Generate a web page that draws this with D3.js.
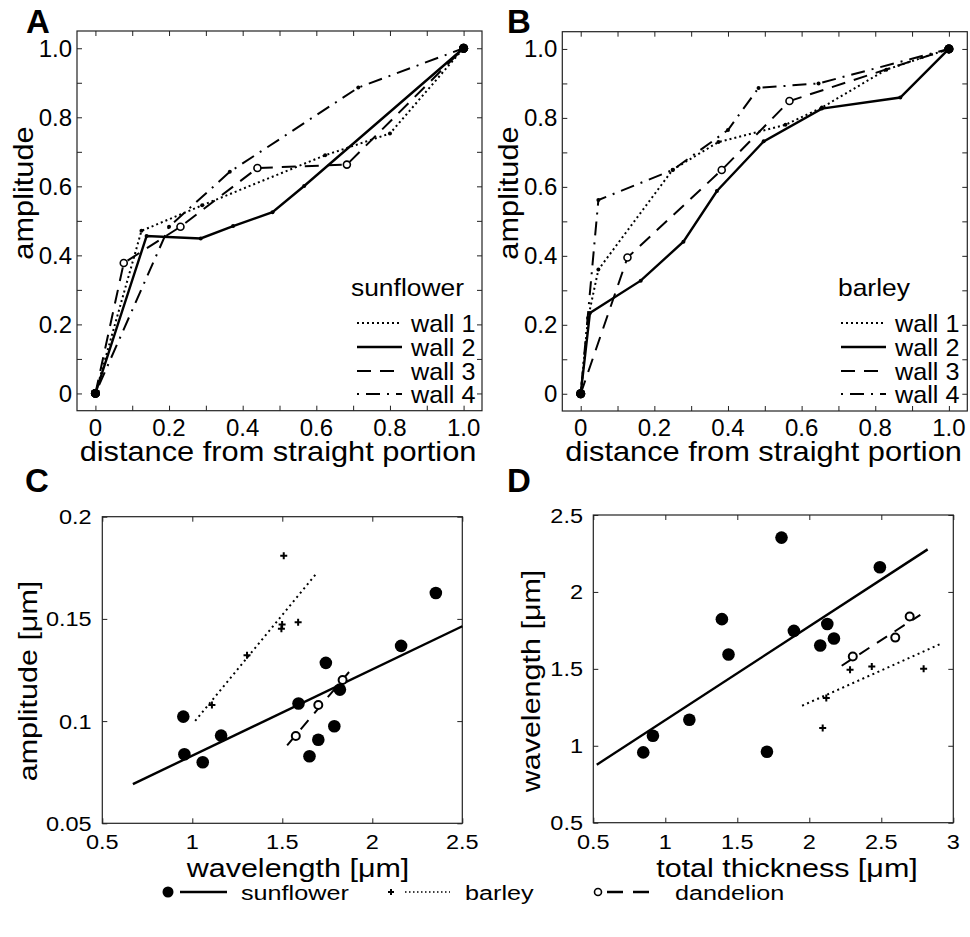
<!DOCTYPE html>
<html>
<head>
<meta charset="utf-8">
<script src="https://cdn.jsdelivr.net/npm/d3@7"></script>
<style>
  body { margin: 0; background: #fff; }
  text { font-family: "Liberation Sans", Arial, sans-serif; fill: #000; }
</style>
</head>
<body>
<script>
var W = 970, H = 937;

// panel A - sunflower, normalised amplitude along the wall
var aWall1X = [0, 0.125, 0.29, 0.624, 0.80, 1.0];
var aWall1Y = [0, 0.471, 0.545, 0.69, 0.753, 1.0];
var aWall2X = [0, 0.139, 0.286, 0.374, 0.481, 0.567, 1.0];
var aWall2Y = [0, 0.456, 0.449, 0.485, 0.525, 0.601, 1.0];
var aWall3X = [0, 0.077, 0.231, 0.44, 0.683, 1.0];
var aWall3Y = [0, 0.378, 0.483, 0.653, 0.663, 1.0];
var aWall4X = [0, 0.2, 0.365, 0.714, 1.0];
var aWall4Y = [0, 0.483, 0.642, 0.886, 1.0];

// panel B - barley
var bWall1X = [0, 0.02, 0.048, 0.25, 0.374, 0.556, 0.655, 0.83, 1.0];
var bWall1Y = [0, 0.22, 0.36, 0.65, 0.73, 0.78, 0.83, 0.94, 1.0];
var bWall2X = [0, 0.025, 0.163, 0.279, 0.37, 0.497, 0.655, 0.868, 1.0];
var bWall2Y = [0, 0.234, 0.328, 0.441, 0.588, 0.732, 0.827, 0.859, 1.0];
var bWall3X = [0, 0.127, 0.383, 0.567, 1.0];
var bWall3Y = [0, 0.395, 0.649, 0.849, 1.0];
var bWall4X = [0, 0.048, 0.25, 0.40, 0.483, 0.646, 1.0];
var bWall4Y = [0, 0.562, 0.649, 0.765, 0.887, 0.90, 1.0];

var wallNames = ["wall 1", "wall 2", "wall 3", "wall 4"];

// panel C - amplitude vs wavelength
var cSunX = [0.95, 0.956, 1.058, 1.16, 1.59, 1.742, 1.82, 1.789, 1.70, 1.651, 2.16, 2.353];
var cSunY = [0.1022, 0.0838, 0.0799, 0.0929, 0.1086, 0.1285, 0.1154, 0.0975, 0.0909, 0.0828, 0.1368, 0.1627];
var cBarX = [1.508, 1.588, 1.499, 1.495, 1.304, 1.109];
var cBarY = [0.1809, 0.1484, 0.1473, 0.1452, 0.1322, 0.1079];
var cDanX = [1.575, 1.70, 1.835];
var cDanY = [0.0927, 0.1079, 0.1201];
// linear fits: [slope, intercept, xStart, xEnd]
var cSunFit = [0.0422, 0.0409, 0.67, 2.5];
var cBarFit = [0.107, -0.0086, 1.016, 1.685];
var cDanFit = [0.1044, -0.0713, 1.527, 1.889];

// panel D - wavelength vs total thickness
var dSunX = [0.847, 0.914, 1.167, 1.393, 1.439, 1.706, 1.807, 1.893, 2.076, 2.125, 2.171, 2.49];
var dSunY = [0.957, 1.065, 1.169, 1.823, 1.593, 0.961, 2.353, 1.747, 1.652, 1.792, 1.697, 2.16];
var dBarX = [2.283, 2.434, 2.794, 2.118, 2.093];
var dBarY = [1.494, 1.515, 1.5, 1.31, 1.115];
var dDanX = [2.302, 2.597, 2.697];
var dDanY = [1.58, 1.703, 1.84];
var dSunFit = [0.609, 0.558, 0.524, 2.822];
var dBarFit = [0.418, 0.445, 1.95, 2.923];
var dDanFit = [0.606, 0.172, 2.225, 2.771];

var abTicks = d3.range(0, 1.01, 0.1);
var abLabels = [0, 0.2, 0.4, 0.6, 0.8, 1.0];
var cXTicks = [0.5, 1, 1.5, 2, 2.5];
var cYTicks = [0.05, 0.1, 0.15, 0.2];
var dXTicks = [0.5, 1, 1.5, 2, 2.5, 3];
var dYTicks = [0.5, 1, 1.5, 2, 2.5];

var svg = d3.select("body").append("svg")
  .attr("width", W)
  .attr("height", H);
svg.append("rect").attr("width", W).attr("height", H).attr("fill", "#fff");

// text with horizontal stretch (the original font is wider than Arial)
function txt(x, y, s, size, sx, anchor, rot, weight) {
  return svg.append("text")
    .attr("transform", "translate(" + x + "," + y + ")" + (rot ? " rotate(" + rot + ")" : "") + " scale(" + sx + ",1)")
    .attr("text-anchor", anchor || "start")
    .attr("font-size", size + "px")
    .attr("font-weight", weight || "normal")
    .text(s);
}

function makePanel(box, xd, yd, xt, yt) {
  var x = d3.scaleLinear().domain(xd).range([box.x0, box.x1]);
  var y = d3.scaleLinear().domain(yd).range([box.y1, box.y0]);
  var g = svg.append("g");
  var axes = [
    [d3.axisBottom(x).tickValues(xt), "translate(0," + box.y1 + ")"],
    [d3.axisTop(x).tickValues(xt), "translate(0," + box.y0 + ")"],
    [d3.axisLeft(y).tickValues(yt), "translate(" + box.x0 + ",0)"],
    [d3.axisRight(y).tickValues(yt), "translate(" + box.x1 + ",0)"]
  ];
  axes.forEach(function(a) {
    var ag = g.append("g").attr("transform", a[1])
      .call(a[0].tickSize(-5).tickFormat(""));
    ag.select(".domain").remove();
    ag.selectAll("line").attr("stroke", "#222").attr("stroke-width", 1);
  });
  g.append("rect")
    .attr("x", box.x0).attr("y", box.y0)
    .attr("width", box.x1 - box.x0).attr("height", box.y1 - box.y0)
    .attr("fill", "none").attr("stroke", "#222").attr("stroke-width", 1.2);
  return { x: x, y: y, g: g, box: box };
}

var wallStyle = [
  { dash: "2,3", w: 2 },
  { dash: null, w: 2.4 },
  { dash: "14,9", w: 2 },
  { dash: "2,7,14,7", w: 2 }
];

function drawWalls(p, xs, ys) {
  var line = d3.line().x(function(d) { return p.x(d[0]); }).y(function(d) { return p.y(d[1]); });
  xs.forEach(function(xa, k) {
    var pts = xa.map(function(v, i) { return [v, ys[k][i]]; });
    p.g.append("path")
      .attr("d", line(pts))
      .attr("fill", "none")
      .attr("stroke", "#000")
      .attr("stroke-width", wallStyle[k].w)
      .attr("stroke-dasharray", wallStyle[k].dash);
    var inner = pts.slice(1, pts.length - 1);
    if (k === 2) {
      p.g.selectAll(null).data(inner).enter().append("circle")
        .attr("cx", function(d) { return p.x(d[0]); })
        .attr("cy", function(d) { return p.y(d[1]); })
        .attr("r", 3.5).attr("fill", "#fff").attr("stroke", "#000").attr("stroke-width", 1.6);
    } else {
      p.g.selectAll(null).data(inner).enter().append("circle")
        .attr("cx", function(d) { return p.x(d[0]); })
        .attr("cy", function(d) { return p.y(d[1]); })
        .attr("r", 2).attr("fill", "#000");
    }
    p.g.selectAll(null).data([pts[0], pts[pts.length - 1]]).enter().append("circle")
      .attr("cx", function(d) { return p.x(d[0]); })
      .attr("cy", function(d) { return p.y(d[1]); })
      .attr("r", 4.5).attr("fill", "#000");
  });
}

function abLabelsDraw(p) {
  abLabels.forEach(function(v) {
    var s = v === 0 ? "0" : v.toFixed(1);
    txt(p.x(v), 436, s, 24, 1.0, "middle");
    txt(p.box.x0 - 5, p.y(v) + 8.5, s, 24, 1.0, "end");
  });
}

function wallLegend(title, tx, lx0, lx1) {
  txt(tx, 296, title, 24, 1.1, "start");
  var rows = [323, 347, 371, 394];
  rows.forEach(function(ry, k) {
    svg.append("line")
      .attr("x1", lx0).attr("x2", lx1).attr("y1", ry).attr("y2", ry)
      .attr("stroke", "#000").attr("stroke-width", wallStyle[k].w)
      .attr("stroke-dasharray", wallStyle[k].dash);
    txt(lx1 + 9, ry + 8.6, wallNames[k], 24, 1.05, "start");
  });
}

// ---- panel A
var pA = makePanel({ x0: 77, x1: 482, y0: 31, y1: 410.7 }, [-0.05, 1.05], [-0.05, 1.05], abTicks, abTicks);
drawWalls(pA, [aWall1X, aWall2X, aWall3X, aWall4X], [aWall1Y, aWall2Y, aWall3Y, aWall4Y]);
abLabelsDraw(pA);
wallLegend("sunflower", 351, 357, 402);
txt(278, 461, "distance from straight portion", 27, 1.14, "middle");
txt(33, 193, "amplitude", 27, 1.14, "middle", -90);
txt(26, 33, "A", 33, 1.0, "start", 0, "bold");

// ---- panel B
var pB = makePanel({ x0: 562.3, x1: 967.3, y0: 31.7, y1: 411 }, [-0.05, 1.05], [-0.05, 1.05], abTicks, abTicks);
drawWalls(pB, [bWall1X, bWall2X, bWall3X, bWall4X], [bWall1Y, bWall2Y, bWall3Y, bWall4Y]);
abLabelsDraw(pB);
wallLegend("barley", 838, 841, 886);
txt(763.5, 461, "distance from straight portion", 27, 1.14, "middle");
txt(518, 193, "amplitude", 27, 1.14, "middle", -90);
txt(507, 33, "B", 33, 1.0, "start", 0, "bold");

// ---- scatter panels
function plus(g, cx, cy, s) {
  g.append("path")
    .attr("d", "M" + (cx - s) + "," + cy + "H" + (cx + s) + "M" + cx + "," + (cy - s) + "V" + (cy + s))
    .attr("stroke", "#000").attr("stroke-width", 2);
}

function fitLine(p, f, dash, w) {
  p.g.append("line")
    .attr("x1", p.x(f[2])).attr("y1", p.y(f[0] * f[2] + f[1]))
    .attr("x2", p.x(f[3])).attr("y2", p.y(f[0] * f[3] + f[1]))
    .attr("stroke", "#000").attr("stroke-width", w)
    .attr("stroke-dasharray", dash);
}

function scatter(p, sx, sy, bx, by, dx, dy, fits) {
  fitLine(p, fits[0], null, 2.4);
  fitLine(p, fits[1], "2,3.5", 2);
  fitLine(p, fits[2], "12,9", 2);
  sx.forEach(function(v, i) {
    p.g.append("circle").attr("cx", p.x(v)).attr("cy", p.y(sy[i])).attr("r", 6.3).attr("fill", "#000");
  });
  bx.forEach(function(v, i) { plus(p.g, p.x(v), p.y(by[i]), 3.5); });
  dx.forEach(function(v, i) {
    p.g.append("circle").attr("cx", p.x(v)).attr("cy", p.y(dy[i])).attr("r", 4)
      .attr("fill", "#fff").attr("stroke", "#000").attr("stroke-width", 2);
  });
}

var pC = makePanel({ x0: 102.3, x1: 462.3, y0: 516.7, y1: 823.3 }, [0.5, 2.5], [0.05, 0.2], cXTicks, cYTicks);
scatter(pC, cSunX, cSunY, cBarX, cBarY, cDanX, cDanY, [cSunFit, cBarFit, cDanFit]);
cXTicks.forEach(function(v) { txt(pC.x(v), 849, String(v), 21, 1.12, "middle"); });
cYTicks.forEach(function(v) { txt(91.7, pC.y(v) + 7.5, String(v), 21, 1.12, "end"); });
txt(298, 877, "wavelength [\u03bcm]", 25, 1.22, "middle");
txt(37, 681, "amplitude [\u03bcm]", 25, 1.22, "middle", -90);
txt(25, 492, "C", 33, 1.0, "start", 0, "bold");

var pD = makePanel({ x0: 593.3, x1: 953.3, y0: 515, y1: 822.7 }, [0.5, 3], [0.5, 2.5], dXTicks, dYTicks);
scatter(pD, dSunX, dSunY, dBarX, dBarY, dDanX, dDanY, [dSunFit, dBarFit, dDanFit]);
dXTicks.forEach(function(v) { txt(pD.x(v), 849, String(v), 21, 1.12, "middle"); });
dYTicks.forEach(function(v) { txt(583, pD.y(v) + 7.5, String(v), 21, 1.12, "end"); });
txt(787, 877, "total thickness [\u03bcm]", 25, 1.22, "middle");
txt(540, 681, "wavelength [\u03bcm]", 25, 1.22, "middle", -90);
txt(507, 492, "D", 33, 1.0, "start", 0, "bold");

// ---- bottom legend
var ly = 892;
svg.append("circle").attr("cx", 168).attr("cy", ly).attr("r", 5.5).attr("fill", "#000");
svg.append("line").attr("x1", 180).attr("x2", 227).attr("y1", ly).attr("y2", ly)
  .attr("stroke", "#000").attr("stroke-width", 2.4);
txt(241, ly + 7.5, "sunflower", 21, 1.2, "start");
plus(svg, 391, ly, 3);
svg.append("line").attr("x1", 405).attr("x2", 450).attr("y1", ly).attr("y2", ly)
  .attr("stroke", "#000").attr("stroke-width", 1.5).attr("stroke-dasharray", "1.5,2.5");
txt(465, ly + 7.5, "barley", 21, 1.2, "start");
svg.append("circle").attr("cx", 598).attr("cy", ly).attr("r", 3.5)
  .attr("fill", "#fff").attr("stroke", "#000").attr("stroke-width", 1.6);
svg.append("line").attr("x1", 607).attr("x2", 658).attr("y1", ly).attr("y2", ly)
  .attr("stroke", "#000").attr("stroke-width", 2.4).attr("stroke-dasharray", "16,10");
txt(675, ly + 7.5, "dandelion", 21, 1.2, "start");
</script>
</body>
</html>
